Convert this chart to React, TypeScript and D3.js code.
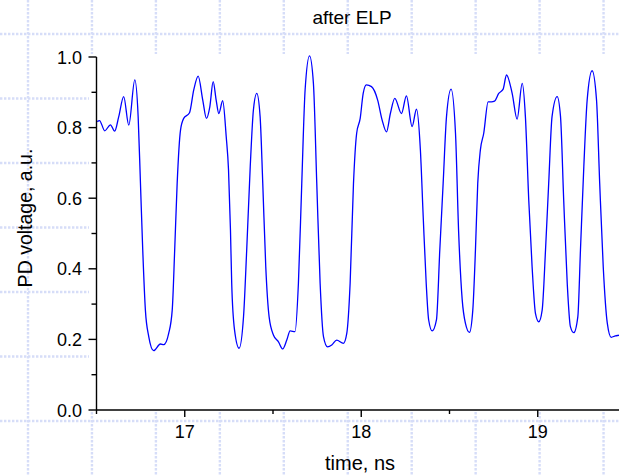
import React from 'react';
import * as d3 from 'd3';

// waveform: time (ns) and PD voltage (a.u.)
const time = [
  16.504, 16.517, 16.547, 16.579, 16.603, 16.626, 16.654, 16.683, 16.717, 16.736,
  16.749, 16.762, 16.777, 16.796, 16.824, 16.862, 16.881, 16.909, 16.929, 16.943,
  16.957, 16.976, 16.994, 17.027, 17.051, 17.076, 17.102, 17.123, 17.142, 17.161,
  17.178, 17.193, 17.215, 17.235, 17.248, 17.259, 17.266, 17.282, 17.308, 17.333,
  17.351, 17.371, 17.389, 17.408, 17.427, 17.442, 17.459, 17.478, 17.503, 17.531,
  17.555, 17.578, 17.597, 17.625, 17.644, 17.663, 17.682, 17.707, 17.729, 17.748,
  17.767, 17.786, 17.809, 17.833, 17.861, 17.899, 17.918, 17.937, 17.956, 17.974,
  17.994, 18.011, 18.029, 18.058, 18.093, 18.118, 18.143, 18.165, 18.190, 18.228,
  18.256, 18.288, 18.313, 18.335, 18.351, 18.368, 18.382, 18.402, 18.426, 18.445,
  18.464, 18.483, 18.509, 18.534, 18.552, 18.572, 18.590, 18.613, 18.632, 18.647,
  18.660, 18.675, 18.694, 18.719, 18.738, 18.755, 18.779, 18.804, 18.823, 18.855,
  18.883, 18.912, 18.930, 18.949, 18.968, 18.987, 19.006, 19.025, 19.044, 19.062,
  19.081, 19.110, 19.129, 19.147, 19.167, 19.185, 19.204, 19.227, 19.242, 19.261,
  19.280, 19.308, 19.333, 19.351, 19.371, 19.394, 19.416, 19.440, 19.463, 19.497,
];
const voltage = [
  0.817, 0.820, 0.791, 0.808, 0.790, 0.831, 0.888, 0.807, 0.935, 0.831,
  0.643, 0.453, 0.283, 0.208, 0.168, 0.187, 0.185, 0.217, 0.283, 0.453,
  0.642, 0.793, 0.826, 0.842, 0.907, 0.946, 0.878, 0.826, 0.859, 0.930,
  0.878, 0.840, 0.876, 0.774, 0.680, 0.510, 0.360, 0.227, 0.175, 0.264,
  0.453, 0.689, 0.850, 0.897, 0.831, 0.642, 0.406, 0.264, 0.212, 0.193,
  0.173, 0.198, 0.224, 0.222, 0.359, 0.642, 0.907, 1.003, 0.925, 0.642,
  0.359, 0.208, 0.179, 0.184, 0.198, 0.189, 0.217, 0.359, 0.642, 0.784,
  0.826, 0.897, 0.921, 0.916, 0.878, 0.822, 0.788, 0.840, 0.883, 0.840,
  0.890, 0.803, 0.852, 0.737, 0.548, 0.359, 0.255, 0.224, 0.255, 0.453,
  0.642, 0.831, 0.909, 0.784, 0.501, 0.312, 0.246, 0.220, 0.283, 0.453,
  0.642, 0.737, 0.784, 0.873, 0.873, 0.875, 0.897, 0.909, 0.949, 0.897,
  0.824, 0.925, 0.831, 0.595, 0.406, 0.274, 0.250, 0.283, 0.453, 0.642,
  0.831, 0.888, 0.831, 0.595, 0.359, 0.236, 0.219, 0.264, 0.453, 0.689,
  0.878, 0.961, 0.878, 0.642, 0.406, 0.246, 0.206, 0.210, 0.212, 0.218,
];

const xMajor = [17, 18, 19];
const xMinor = [16.5, 17.5, 18.5, 19.5];
const yMajor = [0, 0.2, 0.4, 0.6, 0.8, 1.0];
const yMinor = [0.1, 0.3, 0.5, 0.7, 0.9];

const W = 619;
const H = 475;
const font = 'Arial, "Liberation Sans", sans-serif';

export default function App() {
  const x = d3.scaleLinear().domain([16.5, 19.5]).range([96.5, 626]);
  const y = d3.scaleLinear().domain([0, 1]).range([410, 57]);

  const pts: [number, number][] = time.map((t, i) => [t, voltage[i]]);
  const line = d3
    .line<[number, number]>()
    .x((d) => x(d[0]))
    .y((d) => y(d[1]))
    .curve(d3.curveMonotoneX);

  // page grid (dotted) behind the plot area
  const gridX = d3.range(10).map((i) => 28 + i * 63.95);
  const gridY = d3.range(7).map((i) => 34 + i * 64.5);
  const gridStyle = { stroke: '#d6ddf8', strokeWidth: 2.4, strokeDasharray: '2.4 1.6' };

  return (
    <svg
      width={W}
      height={H}
      style={{ position: 'absolute', left: 0, top: 0, background: '#fff' }}
    >
      {gridX.map((gx) => (
        <line key={'gx' + gx} x1={gx} x2={gx} y1={0} y2={H} style={gridStyle} />
      ))}
      {gridY.map((gy) => (
        <line key={'gy' + gy} x1={0} x2={W} y1={gy} y2={gy} style={gridStyle} />
      ))}
      {/* plot area */}
      <rect x={89} y={54} width={W - 89} height={410 - 54} fill="#fff" />

      <path d={line(pts) || ''} fill="none" stroke="#0000ff" strokeWidth={1.3} />

      {/* axes */}
      <g stroke="#000" strokeWidth={1.4}>
        <line x1={x(16.5)} x2={x(16.5)} y1={y(1)} y2={y(0)} />
        <line x1={x(16.5)} x2={W} y1={y(0)} y2={y(0)} />
        {yMajor.map((v) => (
          <line key={'ym' + v} x1={x(16.5) - 8} x2={x(16.5)} y1={y(v)} y2={y(v)} />
        ))}
        {yMinor.map((v) => (
          <line key={'yn' + v} x1={x(16.5) - 5} x2={x(16.5)} y1={y(v)} y2={y(v)} />
        ))}
        {xMajor.map((v) => (
          <line key={'xm' + v} x1={x(v)} x2={x(v)} y1={y(0)} y2={y(0) + 7} />
        ))}
        {xMinor.map((v) => (
          <line key={'xn' + v} x1={x(v)} x2={x(v)} y1={y(0)} y2={y(0) + 4} />
        ))}
      </g>

      <g fontFamily={font} fontSize={18} fill="#000">
        {yMajor.map((v) => (
          <text key={'yl' + v} x={82} y={y(v) + 6.5} textAnchor="end">
            {v.toFixed(1)}
          </text>
        ))}
        {xMajor.map((v) => (
          <text key={'xl' + v} x={x(v)} y={438} textAnchor="middle">
            {v}
          </text>
        ))}
      </g>

      <text x={352} y={24} fontFamily={font} fontSize={19} textAnchor="middle">
        after ELP
      </text>
      <text x={360} y={470} fontFamily={font} fontSize={20} textAnchor="middle">
        time, ns
      </text>
      <text
        transform="translate(32,218) rotate(-90)"
        fontFamily={font}
        fontSize={19.5}
        textAnchor="middle"
      >
        PD voltage, a.u.
      </text>
    </svg>
  );
}
